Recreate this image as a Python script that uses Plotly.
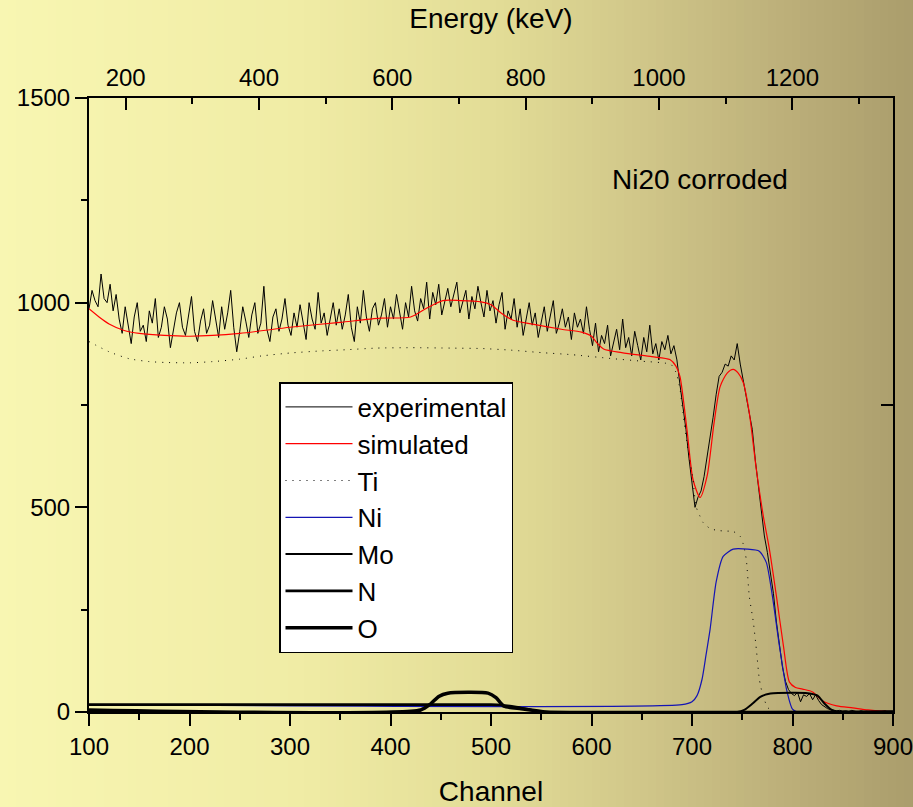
import plotly.graph_objects as go

# ---------------- data ----------------
# experimental spectrum, channels 100..898 step 3
exp_channels = list(range(100, 900, 3))
exp_counts = [
    985, 1030, 1005, 990, 1070, 1010, 1000, 1045, 980, 1020,
    960, 925, 990, 940, 900, 965, 1000, 930, 945, 905,
    980, 950, 1010, 915, 940, 990, 960, 890, 935, 975,
    1000, 940, 920, 965, 1015, 930, 905, 955, 985, 925,
    945, 1005, 960, 915, 990, 935, 975, 1030, 940, 880,
    930, 990, 955, 915, 970, 1000, 925, 950, 1040, 935,
    905, 965, 985, 930, 960, 1010, 945, 920, 975, 940,
    995, 955, 910, 1000, 960, 935, 1025, 950, 975, 920,
    960, 1000, 945, 985, 935, 970, 1020, 940, 905, 990,
    950, 1030, 965, 930, 985, 1000, 945, 970, 1010, 940,
    990, 960, 1020, 975, 935, 1000, 965, 1040, 980, 955,
    1010, 985, 1050, 960, 1025, 995, 1045, 970, 1005, 1035,
    990, 1020, 1050, 975, 1000, 1030, 960, 1015, 985, 1040,
    1000, 965, 1030, 980, 1005, 950, 995, 1025, 935, 980,
    960, 1010, 940, 985, 920, 965, 1000, 945, 975, 915,
    955, 990, 930, 970, 1005, 925, 950, 985, 940, 965,
    910, 975, 940, 960, 925, 990, 935, 895, 950, 880,
    920, 900, 945, 870, 905, 935, 885, 960, 890, 915,
    870, 930, 895, 860, 915, 880, 945, 875, 900, 860,
    905, 885, 920, 875, 895, 860, 800, 745, 690, 620,
    555, 500, 525, 540, 575, 620, 665, 720, 775, 820,
    830, 850, 845, 870, 860, 900, 850, 810, 780, 735,
    690, 615, 550, 480, 430, 390, 345, 290, 220, 170,
    110, 75, 55, 45, 40, 48, 25, 42, 38, 45,
    30, 42, 28, 18, 12, 8, 6, 5, 3, 4,
    2, 3, 1, 4, 2, 0, 3, 1, 2, 0,
    1, 2, 0, 1, 3, 0, 1,
]

sim_channels = [100, 110, 120, 135, 150, 175, 200, 250, 300, 350, 390, 420, 435, 452,
                470, 490, 500, 510, 522, 540, 570, 590, 600, 606, 612, 630, 660, 678,
                684, 688, 695, 701, 708, 715, 722, 728, 735, 741, 746, 751, 757, 764,
                771, 777, 784, 791, 797, 803, 810, 820, 830, 844, 860, 875, 890, 900]
sim_counts = [985, 965, 948, 932, 925, 920, 918, 925, 940, 952, 962, 965, 985, 1005,
              1005, 1002, 995, 975, 957, 948, 935, 928, 918, 900, 887, 878, 868, 861,
              845, 820, 690, 568, 524, 576, 707, 795, 828, 837, 828, 805, 731, 593,
              478, 398, 283, 161, 73, 60, 56, 49, 27, 15, 10, 5, 2, 1]

ti_channels = [100, 120, 140, 160, 175, 200, 223, 250, 272, 300, 330, 356, 386, 420,
               460, 490, 520, 550, 580, 622, 650, 679, 684, 688, 691, 696, 701, 704,
               708, 711, 717, 724, 733, 741, 748, 751, 754, 757, 761, 764, 767, 770,
               772, 775, 780, 790, 900]
ti_counts = [905, 880, 863, 856, 854, 853, 856, 862, 870, 877, 882, 885, 889, 890,
             889, 888, 884, 878, 873, 863, 857, 849, 830, 790, 731, 640, 568, 502,
             478, 463, 450, 444, 442, 441, 429, 410, 373, 283, 220, 154, 80, 45,
             30, 12, 2, 0, 0]

ni_channels = [100, 690, 700, 705, 710, 714, 718, 724, 731, 741, 755, 767, 774, 780,
               787, 794, 800, 805, 900]
ni_counts = [18, 18, 25, 40, 80, 140, 202, 317, 380, 398, 398, 393, 365, 283,
             161, 56, 7, 0, 0]

mo_channels = [100, 745, 752, 760, 768, 778, 800, 815, 825, 832, 839, 845, 900]
mo_counts = [0, 0, 5, 20, 37, 45, 47, 46, 40, 20, 5, 0, 0]

n_channels = [100, 500, 510, 525, 540, 550, 900]
n_counts = [18, 18, 17, 12, 5, 0, 0]

o_channels = [100, 430, 440, 448, 457, 497, 505, 513, 530, 545, 555, 900]
o_counts = [5, 5, 20, 38, 46, 46, 35, 14, 8, 3, 0, 0]

channel_ticks = [100, 200, 300, 400, 500, 600, 700, 800, 900]
energy_ticks = [200, 400, 600, 800, 1000, 1200]
energy_minor_ticks = [300, 500, 700, 900, 1100, 1300]
count_ticks = [0, 500, 1000, 1500]
channel_range = [100, 900]
energy_range = [145, 1351]
count_range = [0, 1500]

FONT = "Liberation Sans, Arial, sans-serif"

fig = go.Figure()
fig.add_trace(go.Scatter(x=exp_channels, y=exp_counts, mode="lines", name="experimental",
                         line=dict(color="black", width=1)))
fig.add_trace(go.Scatter(x=sim_channels, y=sim_counts, mode="lines", name="simulated",
                         line=dict(color="#ff0000", width=1.2, shape="spline", smoothing=0.7)))
fig.add_trace(go.Scatter(x=ti_channels, y=ti_counts, mode="lines", name="Ti",
                         line=dict(color="black", width=1, dash="1px,6px", shape="spline", smoothing=0.6)))
fig.add_trace(go.Scatter(x=ni_channels, y=ni_counts, mode="lines", name="Ni",
                         line=dict(color="#1414b4", width=1.2, shape="spline", smoothing=0.6)))
fig.add_trace(go.Scatter(x=mo_channels, y=mo_counts, mode="lines", name="Mo",
                         line=dict(color="black", width=2, shape="spline", smoothing=0.6)))
fig.add_trace(go.Scatter(x=n_channels, y=n_counts, mode="lines", name="N",
                         line=dict(color="black", width=2.6, shape="spline", smoothing=0.5)))
fig.add_trace(go.Scatter(x=o_channels, y=o_counts, mode="lines", name="O",
                         line=dict(color="black", width=3.5, shape="spline", smoothing=0.6)))
# helper traces to activate top and right axes
fig.add_trace(go.Scatter(x=energy_range, y=count_range, xaxis="x2", yaxis="y", mode="markers",
                         marker=dict(opacity=0), showlegend=False, hoverinfo="skip"))
fig.add_trace(go.Scatter(x=channel_range, y=count_range, xaxis="x", yaxis="y2", mode="markers",
                         marker=dict(opacity=0), showlegend=False, hoverinfo="skip"))

# background gradient (decoration)
stops = [(0, (248, 246, 178)), (300, (240, 236, 165)), (500, (226, 220, 150)),
         (650, (207, 197, 136)), (800, (186, 173, 120)), (913, (170, 157, 108))]
L, R, T, B = 89, 20, 98, 95
W, H = 913, 807
pw, ph = W - L - R, H - T - B
shapes = []
step = 8
for px in range(0, W, step):
    c = px + step / 2
    col = stops[-1][1]
    for i in range(len(stops) - 1):
        if stops[i][0] <= c <= stops[i + 1][0]:
            t = (c - stops[i][0]) / (stops[i + 1][0] - stops[i][0])
            col = tuple(int(round(stops[i][1][k] + t * (stops[i + 1][1][k] - stops[i][1][k]))) for k in range(3))
            break
    shapes.append(dict(type="rect", xref="paper", yref="paper", layer="below",
                       x0=(px - L) / pw, x1=(px + step + 1 - L) / pw,
                       y0=-B / ph - 0.01, y1=1 + T / ph + 0.01,
                       line=dict(width=0), fillcolor="rgb(%d,%d,%d)" % col))

axis_common = dict(showgrid=False, zeroline=False, showline=True, linecolor="black",
                   linewidth=2, tickcolor="black", tickwidth=2, ticklen=12,
                   automargin=False, ticklabeloverflow="allow",
                   tickfont=dict(family=FONT, size=24, color="black"))

fig.update_layout(
    width=W, height=H,
    margin=dict(l=L, r=R, t=T, b=B),
    paper_bgcolor="rgb(248,246,178)",
    plot_bgcolor="rgba(0,0,0,0)",
    shapes=shapes,
    showlegend=True,
    legend=dict(x=(279 - L) / pw, y=(712 - 382) / ph, xanchor="left", yanchor="top",
                bgcolor="white", bordercolor="black", borderwidth=1.5,
                font=dict(family=FONT, size=26, color="black"), itemwidth=67,
                tracegroupgap=0),
    xaxis=dict(range=channel_range, tickvals=channel_ticks, ticks="outside",
               minor=dict(dtick=50, tick0=100, ticks="outside", ticklen=6, tickwidth=2, tickcolor="black"),
               title=dict(text="Channel", font=dict(family=FONT, size=28, color="black"), standoff=24),
               **axis_common),
    xaxis2=dict(range=energy_range, overlaying="x", side="top", tickvals=energy_ticks,
                ticks="inside",
                minor=dict(tickvals=energy_minor_ticks, ticks="inside", ticklen=6,
                           tickwidth=2, tickcolor="black"),
                title=dict(text="Energy (keV)", font=dict(family=FONT, size=28, color="black"), standoff=28),
                **axis_common),
    yaxis=dict(range=count_range, tickvals=count_ticks, ticks="outside",
               minor=dict(dtick=250, tick0=0, ticks="outside", ticklen=6, tickwidth=2, tickcolor="black"),
               **axis_common),
    yaxis2=dict(range=count_range, overlaying="y", side="right", tickvals=[750],
                ticks="inside", showticklabels=False, **axis_common),
    annotations=[dict(text="Ni20 corroded", xref="paper", yref="paper", x=0.76, y=0.867,
                      xanchor="center", yanchor="middle",
                      showarrow=False, font=dict(family=FONT, size=28, color="black"))],
)

fig.write_html("out.html")
